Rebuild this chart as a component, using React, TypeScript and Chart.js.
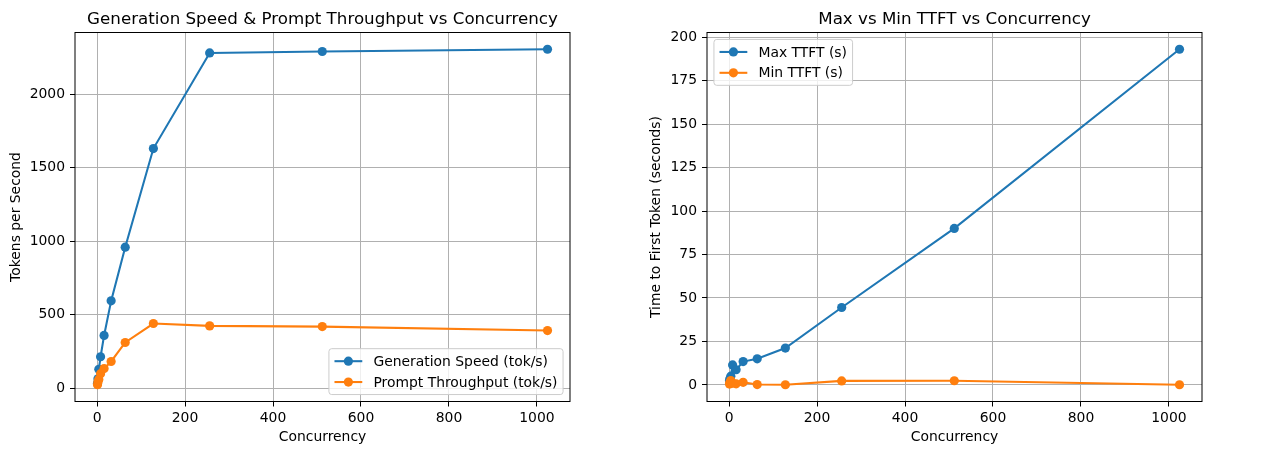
import React, { useEffect, useRef } from "react";
import { Chart, registerables } from "chart.js";

Chart.register(...registerables);

// Benchmark results per concurrency level
const concurrency = [1, 2, 4, 8, 16, 32, 64, 128, 256, 512, 1024];
const generationSpeed = [35, 65, 130, 215, 360, 595, 960, 1630, 2280, 2290, 2305];
const promptThroughput = [25, 45, 60, 100, 135, 183, 312, 441, 425, 420, 393];
const maxTtft = [2.5, 3.5, 5, 11.5, 8.7, 13.4, 15, 21.2, 44.5, 90, 193];
const minTtft = [0.5, 1.5, 2.5, 1.0, 0.6, 1.5, 0.2, 0.1, 2.3, 2.4, 0.1];

const xTicks = [0, 200, 400, 600, 800, 1000];
const tokensTicks = [0, 500, 1000, 1500, 2000];
const ttftTicks = [0, 25, 50, 75, 100, 125, 150, 175, 200];

const BLUE = "#1f77b4";
const ORANGE = "#ff7f0e";
const FONT = "'DejaVu Sans', 'Liberation Sans', sans-serif";
const W = 640;
const H = 455;
const PLOT_TOP = 32.5;
const PLOT_BOTTOM = 401.5;
const SMALL = 13.9;
const LARGE = 16.7;
const MARKER_R = 4.6;

function paddedRange(values: number[]): [number, number] {
  const lo = Math.min(...values);
  const hi = Math.max(...values);
  const m = (hi - lo) * 0.05;
  return [lo - m, hi + m];
}

// Draws the axes frame, the panel title and a framed legend inside the plot area.
const decorations = {
  id: "decorations",
  afterDraw(chart: any, _args: any, opts: any) {
    const { ctx, chartArea: a } = chart;
    ctx.save();

    ctx.strokeStyle = "#000";
    ctx.lineWidth = 1;
    ctx.strokeRect(a.left, a.top, a.right - a.left, a.bottom - a.top);

    ctx.fillStyle = "#000";
    ctx.font = `${LARGE}px ${FONT}`;
    ctx.textAlign = "center";
    ctx.textBaseline = "alphabetic";
    ctx.fillText(opts.title, (a.left + a.right) / 2, a.top - 8.3);

    const fs = SMALL;
    ctx.font = `${fs}px ${FONT}`;
    const items = chart.data.datasets;
    const textW = Math.max(...items.map((d: any) => ctx.measureText(d.label).width));
    const pad = 0.4 * fs;
    const handleLen = 2 * fs;
    const handlePad = 0.8 * fs;
    const rowH = fs;
    const gap = 0.5 * fs;
    const axPad = 0.5 * fs;
    const w = pad + handleLen + handlePad + textW + pad;
    const h = pad * 2 + items.length * rowH + (items.length - 1) * gap;
    let x0: number;
    let y0: number;
    if (opts.corner === "lower right") {
      x0 = a.right - axPad - w;
      y0 = a.bottom - axPad - h;
    } else {
      x0 = a.left + axPad;
      y0 = a.top + axPad;
    }
    ctx.beginPath();
    ctx.roundRect(x0, y0, w, h, 2.8);
    ctx.fillStyle = "rgba(255,255,255,0.8)";
    ctx.fill();
    ctx.strokeStyle = "#cccccc";
    ctx.lineWidth = 1;
    ctx.stroke();

    items.forEach((d: any, i: number) => {
      const cy = y0 + pad + i * (rowH + gap) + rowH / 2;
      const hx = x0 + pad;
      ctx.strokeStyle = d.borderColor;
      ctx.lineWidth = 2.08;
      ctx.beginPath();
      ctx.moveTo(hx, cy);
      ctx.lineTo(hx + handleLen, cy);
      ctx.stroke();
      ctx.fillStyle = d.borderColor;
      ctx.beginPath();
      ctx.arc(hx + handleLen / 2, cy, MARKER_R, 0, Math.PI * 2);
      ctx.fill();
      ctx.fillStyle = "#000";
      ctx.textAlign = "left";
      ctx.textBaseline = "middle";
      ctx.fillText(d.label, hx + handleLen + handlePad, cy + 1);
    });

    ctx.restore();
  },
};

type Series = { label: string; values: number[]; color: string; order: number };

type PanelProps = {
  title: string;
  yLabel: string;
  series: Series[];
  yTicks: number[];
  corner: string;
  plotLeft: number;
  plotRight: number;
};

function Panel({ title, yLabel, series, yTicks, corner, plotLeft, plotRight }: PanelProps) {
  const ref = useRef<HTMLCanvasElement | null>(null);

  useEffect(() => {
    if (!ref.current) return;
    const [xMin, xMax] = paddedRange(concurrency);
    const [yMin, yMax] = paddedRange(series.flatMap((s) => s.values));
    const tickFont = { family: FONT, size: SMALL };
    const grid = {
      color: "#b0b0b0",
      lineWidth: 1,
      tickColor: "#000",
      tickLength: 5,
      tickWidth: 1,
      drawTicks: true,
    };

    const chart = new Chart(ref.current, {
      type: "line",
      data: {
        datasets: series.map((s) => ({
          label: s.label,
          data: concurrency.map((c, i) => ({ x: c, y: s.values[i] })),
          borderColor: s.color,
          backgroundColor: s.color,
          pointBackgroundColor: s.color,
          pointBorderWidth: 0,
          pointRadius: MARKER_R,
          borderWidth: 2.08,
          tension: 0,
          fill: false,
          order: s.order,
        })),
      },
      options: {
        responsive: false,
        animation: false,
        events: [],
        layout: { padding: { left: 0, top: PLOT_TOP, right: W - plotRight, bottom: 0 } },
        plugins: {
          legend: { display: false },
          tooltip: { enabled: false },
          title: { display: false },
          decorations: { title, corner },
        } as any,
        scales: {
          x: {
            type: "linear",
            min: xMin,
            max: xMax,
            afterFit: (s: any) => {
              s.height = H - PLOT_BOTTOM;
            },
            afterBuildTicks: (s: any) => {
              s.ticks = xTicks.map((v) => ({ value: v }));
            },
            grid,
            border: { display: false },
            ticks: {
              color: "#000",
              font: tickFont,
              padding: 4,
              maxRotation: 0,
              autoSkip: false,
              callback: (v: any) => String(v),
            },
            title: {
              display: true,
              text: "Concurrency",
              color: "#000",
              font: tickFont,
              padding: { top: 0, bottom: 9 },
            },
          },
          y: {
            type: "linear",
            min: yMin,
            max: yMax,
            afterFit: (s: any) => {
              s.width = plotLeft;
            },
            afterBuildTicks: (s: any) => {
              s.ticks = yTicks.map((v) => ({ value: v }));
            },
            grid,
            border: { display: false },
            ticks: {
              color: "#000",
              font: tickFont,
              padding: 5,
              autoSkip: false,
              callback: (v: any) => String(v),
            },
            title: {
              display: true,
              text: yLabel,
              color: "#000",
              font: tickFont,
              padding: { top: 8, bottom: 0 },
            },
          },
        },
      } as any,
      plugins: [decorations],
    });
    return () => chart.destroy();
  }, []);

  return <canvas ref={ref} width={W} height={H} style={{ display: "block", width: W, height: H }} />;
}

export default function App() {
  return (
    <div
      style={{
        position: "absolute",
        left: 0,
        top: 0,
        width: 1280,
        height: 455,
        display: "flex",
        background: "#fff",
      }}
    >
      <Panel
        title="Generation Speed & Prompt Throughput vs Concurrency"
        yLabel="Tokens per Second"
        series={[
          { label: "Generation Speed (tok/s)", values: generationSpeed, color: BLUE, order: 1 },
          { label: "Prompt Throughput (tok/s)", values: promptThroughput, color: ORANGE, order: 0 },
        ]}
        yTicks={tokensTicks}
        corner="lower right"
        plotLeft={75}
        plotRight={570}
      />
      <Panel
        title="Max vs Min TTFT vs Concurrency"
        yLabel="Time to First Token (seconds)"
        series={[
          { label: "Max TTFT (s)", values: maxTtft, color: BLUE, order: 1 },
          { label: "Min TTFT (s)", values: minTtft, color: ORANGE, order: 0 },
        ]}
        yTicks={ttftTicks}
        corner="upper left"
        plotLeft={67}
        plotRight={562}
      />
    </div>
  );
}
